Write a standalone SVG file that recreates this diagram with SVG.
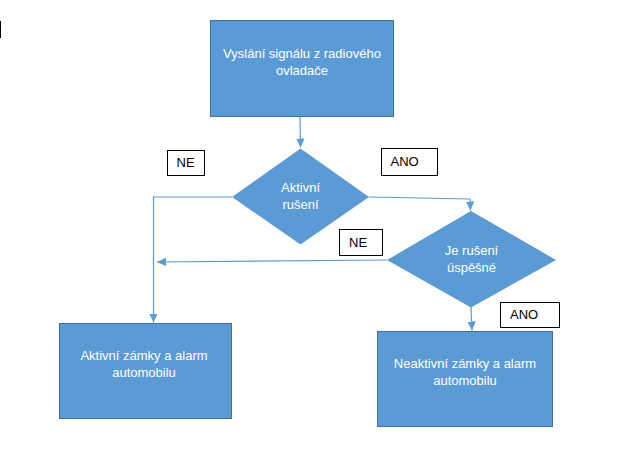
<svg xmlns="http://www.w3.org/2000/svg" width="632" height="462" viewBox="0 0 632 462">
<defs>
<style>
.box{fill:#5B9BD5;stroke:#41719C;stroke-width:1}
.wt{fill:#FFFFFF;font-family:"Liberation Sans",Arial,sans-serif;font-size:13px;text-anchor:middle}
.lbl{fill:#FFFFFF;stroke:#000000;stroke-width:1}
.lt{fill:#000000;font-family:"Liberation Sans",Arial,sans-serif;font-size:13px}
.con{fill:none;stroke:#5B9BD5;stroke-width:1.2}
</style>
<marker id="ah" markerUnits="userSpaceOnUse" markerWidth="10" markerHeight="10" viewBox="0 0 10 10" refX="9" refY="5" orient="auto">
<path d="M0,0.8 L9,5 L0,9.2 Z" fill="#5B9BD5"/>
</marker>
</defs>
<rect x="0" y="0" width="632" height="462" fill="#FFFFFF"/>
<line x1="0.5" y1="21" x2="0.5" y2="38" stroke="#000000" stroke-width="1"/>
<g id="connectors">
<path class="con" d="M300,117 L300.5,147.5" marker-end="url(#ah)"/>
<path class="con" d="M369,197 L470,199 L470.5,210.5" marker-end="url(#ah)"/>
<path class="con" d="M232,197 L153.5,197 L153.5,322.5" marker-end="url(#ah)"/>
<path class="con" d="M387,260 L157,262" marker-end="url(#ah)"/>
<path class="con" d="M471,307 L472,330.5" marker-end="url(#ah)"/>
</g>
<g id="start">
<rect class="box" x="210.5" y="20.5" width="183" height="96"/>
<text class="wt" x="302" y="58">Vyslání signálu z radiového</text>
<text class="wt" x="302" y="75">ovladače</text>
</g>
<g id="decision1">
<polygon class="box" points="232,197 300.5,148.5 369,197 300.5,244.5" style="stroke:none"/>
<text class="wt" x="300.5" y="192">Aktivní</text>
<text class="wt" x="300.5" y="209">rušení</text>
</g>
<g id="decision2">
<polygon class="box" points="387,260 471,211 556,260 471,307.5" style="stroke:none"/>
<text class="wt" x="471.5" y="255">Je rušení</text>
<text class="wt" x="471.5" y="272">úspěšné</text>
</g>
<g id="active">
<rect class="box" x="59.5" y="323.5" width="172" height="95"/>
<text class="wt" x="144" y="360">Aktivní zámky a alarm</text>
<text class="wt" x="144" y="377">automobilu</text>
</g>
<g id="inactive">
<rect class="box" x="377.5" y="331.5" width="175" height="95"/>
<text class="wt" x="465" y="368">Neaktivní zámky a alarm</text>
<text class="wt" x="465" y="385">automobilu</text>
</g>
<g id="label-ne1">
<rect class="lbl" x="167.5" y="150.5" width="37" height="25"/>
<text class="lt" x="176.5" y="167">NE</text>
</g>
<g id="label-ano1">
<rect class="lbl" x="381.5" y="148.5" width="56" height="27"/>
<text class="lt" x="390.5" y="166">ANO</text>
</g>
<g id="label-ne2">
<rect class="lbl" x="339.5" y="229.5" width="43" height="26"/>
<text class="lt" x="349" y="247">NE</text>
</g>
<g id="label-ano2">
<rect class="lbl" x="500.5" y="302.5" width="59" height="25"/>
<text class="lt" x="510" y="319">ANO</text>
</g>
</svg>
